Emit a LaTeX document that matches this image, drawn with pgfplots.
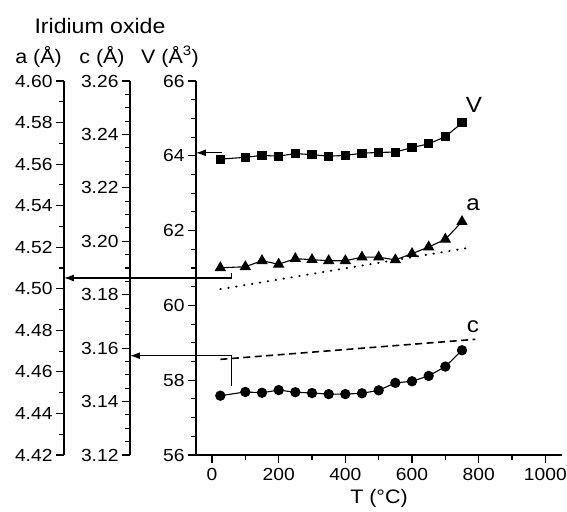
\documentclass[border=0pt]{standalone}
\usepackage{fontspec}
\setmainfont[FakeStretch=1.1]{Liberation Sans}
\usepackage{pgfplots}
\pgfplotsset{compat=1.18}
\usetikzlibrary{arrows.meta}

\pgfplotsset{
  myticks/.style={
    tick align=outside,
    major tick length=8pt, minor tick length=5pt,
    every tick/.style={black, line width=1.1pt},
    axis line style={-, line width=1.5pt},
    tick label style={font=\fontsize{17.5}{20}\selectfont},
    /pgf/number format/assume math mode=true,
    /pgf/number format/1000 sep={},
  },
}

\begin{document}
\begin{tikzpicture}
\useasboundingbox (-196pt,-56pt) rectangle (371pt,455pt);

% a axis
\begin{axis}[at={(-132pt,0pt)}, anchor=south west, scale only axis,
  width=1pt, height=374pt, xmin=0, xmax=1, ymin=4.42, ymax=4.60,
  axis y line=left, axis x line=none, myticks,
  ytick={4.42,4.44,4.46,4.48,4.50,4.52,4.54,4.56,4.58,4.60},
  minor y tick num=1,
  yticklabel style={/pgf/number format/.cd, fixed, fixed zerofill, precision=2},
]
\end{axis}

% c axis
\begin{axis}[at={(-66pt,0pt)}, anchor=south west, scale only axis,
  width=1pt, height=374pt, xmin=0, xmax=1, ymin=3.12, ymax=3.26,
  axis y line=left, axis x line=none, myticks,
  ytick={3.12,3.14,3.16,3.18,3.20,3.22,3.24,3.26},
  minor y tick num=3,
  yticklabel style={/pgf/number format/.cd, fixed, fixed zerofill, precision=2},
]
\end{axis}

% main V axis
\begin{axis}[at={(0pt,0pt)}, anchor=south west, scale only axis,
  width=366pt, height=374pt,
  xmin=-48, xmax=1050, ymin=56, ymax=66,
  axis x line*=bottom, axis y line*=left, myticks,
  xtick={0,200,400,600,800,1000}, minor x tick num=1,
  xticklabel style={yshift=-2pt},
  ytick={56,58,60,62,64,66}, minor y tick num=3,
  clip=false,
  xlabel={T (°C)},
  xlabel style={font=\fontsize{19.5}{22}\selectfont, at={(axis description cs:0.5,0)}, anchor=base, yshift=-48pt},
]
\addplot[black, line width=1.1pt, mark=square*, mark size=4pt, mark options={solid}] coordinates {
(25,63.91) (100,63.96) (150,64.01) (200,63.99) (250,64.06) (300,64.03) (350,63.99) (400,64.01)
(450,64.07) (500,64.09) (550,64.10) (600,64.22) (650,64.32) (700,64.51) (750,64.88)};
\draw[line width=1.1pt, -{Latex[length=10pt,width=7pt]}] (axis cs:30,64.08) -- (axis cs:-48,64.08);
\draw[line width=1.1pt, -{Latex[length=10pt,width=7pt]}] (axis cs:59,60.866) -- (axis cs:59,60.733) -- (axis cs:-444,60.733);
\draw[line width=1.1pt, -{Latex[length=10pt,width=7pt]}] (axis cs:59,57.845) -- (axis cs:59,58.655) -- (axis cs:-246,58.655);
\node[font=\fontsize{22}{25}\selectfont] at (axis cs:786,65.36) {V};
\node[font=\fontsize{22}{25}\selectfont] at (axis cs:783,62.68) {a};
\node[font=\fontsize{22}{25}\selectfont] at (axis cs:783,59.42) {c};
\end{axis}

% a data
\begin{axis}[at={(0pt,0pt)}, anchor=south west, scale only axis,
  width=366pt, height=374pt, xmin=-48, xmax=1050, ymin=4.42, ymax=4.60,
  hide axis, clip=false]
\addplot[black, line width=1.1pt, mark=triangle*, mark size=5.5pt, mark options={solid}] coordinates {
(25,4.5101) (100,4.5106) (150,4.5135) (200,4.5118) (250,4.5145) (300,4.5140) (350,4.5135) (400,4.5135)
(450,4.5152) (500,4.5152) (550,4.5139) (600,4.5169) (650,4.5201) (700,4.5238) (750,4.5323)};
\addplot[black, line width=2pt, dash pattern=on 0.5pt off 7.5pt, line cap=round] coordinates {(25,4.4998) (780,4.5200)};
\end{axis}

% c data
\begin{axis}[at={(0pt,0pt)}, anchor=south west, scale only axis,
  width=366pt, height=374pt, xmin=-48, xmax=1050, ymin=3.12, ymax=3.26,
  hide axis, clip=false]
\addplot[black, line width=1.1pt, mark=*, mark size=4.6pt, mark options={solid}] coordinates {
(25,3.1422) (100,3.1436) (150,3.1433) (200,3.1443) (250,3.1435) (300,3.1432) (350,3.1428) (400,3.1428)
(450,3.1431) (500,3.1442) (550,3.1470) (600,3.1476) (650,3.1496) (700,3.1531) (750,3.1592)};
\addplot[black, line width=1.6pt, dash pattern=on 7pt off 4.5pt] coordinates {(25,3.1558) (790,3.1633)};
\end{axis}

\node[font=\fontsize{21}{24}\selectfont, anchor=base] at (-96pt,421.7pt) {Iridium oxide};
\node[font=\fontsize{19.5}{22}\selectfont, anchor=base] at (-157.5pt,391.7pt) {a (Å)};
\node[font=\fontsize{19.5}{22}\selectfont, anchor=base] at (-94pt,391.7pt) {c (Å)};
\node[font=\fontsize{19.5}{22}\selectfont, anchor=base] at (-26pt,391.7pt) {V (Å\textsuperscript{3})};
\end{tikzpicture}
\end{document}
